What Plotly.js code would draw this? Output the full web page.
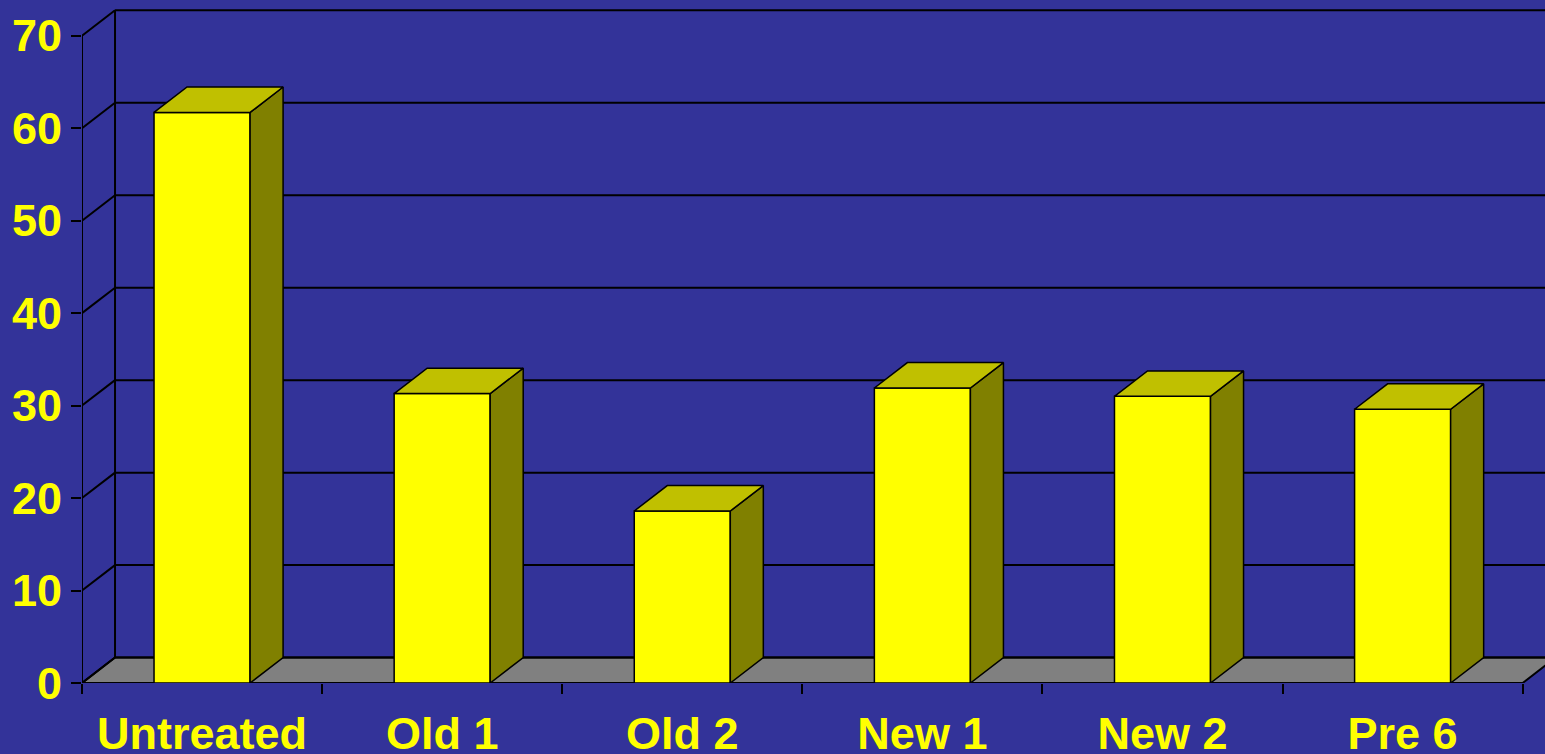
<!DOCTYPE html>
<html>
<head>
<meta charset="utf-8">
<script src="https://cdn.plot.ly/plotly-3.0.1.min.js"></script>
<style>html,body{margin:0;padding:0;background:#333399;}</style>
</head>
<body>
<div id="chart" style="width:1545px;height:754px;"></div>
<script>
// ---- data ----
const categories = ["Untreated", "Old 1", "Old 2", "New 1", "New 2", "Pre 6"];
const values = [61.7, 31.3, 18.6, 31.9, 31.0, 29.6];
const yTicks = [0, 10, 20, 30, 40, 50, 60, 70];

// ---- 3D look parameters (in axis units) ----
const DX = 0.1375;   // depth offset along x
const DY = 2.75;     // depth offset along y
const HALF = 0.2;    // half bar width
const X0 = -0.5, X1 = categories.length - 0.5;
const XR = 5.593, YMAX = 70;
const LINE = '#000000';
const LW = 2;

const xs = categories.map((c, i) => i);

// side and top faces built from the values
const sideX = [], sideY = [], topX = [], topY = [];
values.forEach((v, i) => {
  const a = i + HALF;
  sideX.push(a, a + DX, a + DX, a, a, null);
  sideY.push(0, DY, v + DY, v, 0, null);
  const l = i - HALF;
  topX.push(l, a, a + DX, l + DX, l, null);
  topY.push(v, v, v + DY, v + DY, v, null);
});

const traces = [
  {type: 'bar', x: xs, y: values, width: 2 * HALF,
   marker: {color: '#FFFF00', line: {color: LINE, width: 1.5}},
   hoverinfo: 'skip', showlegend: false},
  {type: 'scatter', mode: 'lines', x: sideX, y: sideY, fill: 'toself',
   fillcolor: '#808000', line: {color: LINE, width: 1.5}, connectgaps: false,
   hoverinfo: 'skip', showlegend: false},
  {type: 'scatter', mode: 'lines', x: topX, y: topY, fill: 'toself',
   fillcolor: '#C0C000', line: {color: LINE, width: 1.5}, connectgaps: false,
   hoverinfo: 'skip', showlegend: false}
];

// frame: floor, walls, gridlines
const shapes = [];
shapes.push({type: 'path', layer: 'below', xref: 'x', yref: 'y',
  path: `M${X0},0 L${X1},0 L${X1 + DX},${DY} L${X0 + DX},${DY} Z`,
  fillcolor: '#808080', line: {color: LINE, width: LW}});
yTicks.forEach(t => {
  shapes.push({type: 'line', layer: 'below', xref: 'x', yref: 'y',
    x0: X0 + DX, x1: XR + 1, y0: t + DY, y1: t + DY, line: {color: LINE, width: LW}});
  shapes.push({type: 'line', layer: 'below', xref: 'x', yref: 'y',
    x0: X0, x1: X0 + DX, y0: t, y1: t + DY, line: {color: LINE, width: LW}});
});
shapes.push({type: 'line', layer: 'below', xref: 'x', yref: 'y',
  x0: X0 + DX, x1: X0 + DX, y0: DY, y1: YMAX + DY, line: {color: LINE, width: LW}});
shapes.push({type: 'line', layer: 'below', xref: 'x', yref: 'y',
  x0: X0, x1: X0, y0: 0, y1: YMAX, line: {color: LINE, width: LW}});

const bounds = [];
for (let i = 0; i <= categories.length; i++) bounds.push(i - 0.5);

const font = {family: 'Liberation Sans, Arial, sans-serif', size: 45, color: '#FFFF00', weight: 'bold'};

const layout = {
  width: 1545, height: 754,
  margin: {l: 82, r: 0, t: 0, b: 71, pad: 0},
  paper_bgcolor: '#333399', plot_bgcolor: '#333399',
  showlegend: false,
  bargap: 0,
  xaxis: {
    range: [X0, XR], tickmode: 'array', tickvals: xs, ticktext: categories,
    ticks: '', showgrid: false, zeroline: false, showline: false,
    tickfont: font, fixedrange: true, ticklabelstandoff: 20,
    minor: {tickmode: 'array', tickvals: bounds, ticks: 'outside', ticklen: 10,
            tickwidth: LW, tickcolor: LINE, showgrid: false}
  },
  yaxis: {
    range: [0, 73.86], tickmode: 'array', tickvals: yTicks,
    ticks: 'outside', ticklen: 10, tickwidth: LW, tickcolor: LINE,
    showgrid: false, zeroline: false, showline: false,
    tickfont: font, fixedrange: true
  },
  shapes: shapes
};

Plotly.newPlot('chart', traces, layout, {staticPlot: true, displayModeBar: false});
</script>
</body>
</html>
